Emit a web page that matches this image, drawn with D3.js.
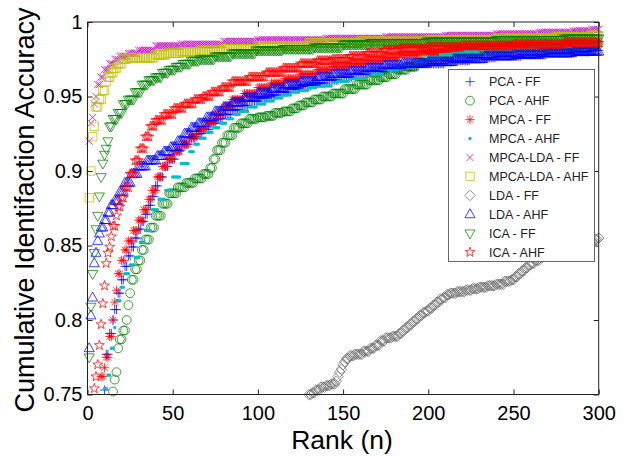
<!DOCTYPE html>
<html>
<head>
<meta charset="utf-8">
<title>Cumulative identification accuracy</title>
<style>
  body { margin: 0; background: #fff; }
  text { font-family: "Liberation Sans", Arial, Helvetica, sans-serif; }
</style>
</head>
<body>
<script src="https://cdn.jsdelivr.net/npm/d3@7/dist/d3.min.js"></script>
<script>

var width  = 628;
var height = 458;

// [rank, accuracy] pairs.
// A CMC curve is a step function: the accuracy holds until the next entry.
var pcaFF = [[10,0.753],[11,0.777],[13,0.791],[15,0.800],[16,0.807],[18,0.818],[20,0.827],[22,0.836],[24,0.843],
  [26,0.849],[28,0.855],[30,0.861],[32,0.866],[34,0.871],[36,0.877],[38,0.883],[40,0.890],[42,0.896],[45,0.903],
  [48,0.908],[52,0.914],[56,0.918],[60,0.922],[64,0.925],[68,0.928],[72,0.932],[76,0.935],[80,0.938],[85,0.941],
  [90,0.944],[95,0.947],[100,0.949],[106,0.951],[112,0.953],[118,0.955],[125,0.957],[132,0.959],[140,0.961],
  [148,0.963],[156,0.965],[165,0.967],[175,0.969],[185,0.970],[195,0.972],[210,0.974],[225,0.976],[240,0.977],
  [255,0.978],[270,0.979],[285,0.980],[295,0.981]];

var pcaAHF = [[15,0.752],[16,0.760],[17,0.765],[18,0.781],[19,0.787],[21,0.793],[23,0.800],[24,0.810],[25,0.818],
  [26,0.827],[28,0.834],[30,0.840],[32,0.847],[34,0.854],[37,0.862],[40,0.870],[44,0.878],[48,0.885],[53,0.889],
  [58,0.892],[63,0.895],[68,0.898],[72,0.902],[74,0.908],[76,0.914],[79,0.919],[82,0.924],[86,0.929],[90,0.932],
  [95,0.935],[100,0.936],[105,0.937],[110,0.939],[115,0.940],[120,0.942],[124,0.944],[128,0.946],[133,0.948],
  [138,0.950],[144,0.952],[151,0.955],[158,0.958],[165,0.961],[172,0.963],[177,0.965],[182,0.968],[188,0.970],
  [193,0.973],[198,0.976],[205,0.978],[215,0.980],[230,0.982],[250,0.983],[270,0.984],[290,0.985]];

var mpcaFF = [[8,0.762],[10,0.768],[11,0.775],[13,0.789],[15,0.800],[16,0.812],[17,0.820],[18,0.831],[20,0.840],
  [22,0.847],[24,0.853],[27,0.860],[30,0.867],[33,0.874],[36,0.881],[38,0.887],[41,0.896],[44,0.903],[47,0.908],
  [51,0.913],[55,0.918],[60,0.923],[65,0.928],[70,0.933],[75,0.938],[80,0.943],[85,0.948],[92,0.952],[100,0.956],
  [108,0.959],[116,0.962],[125,0.965],[135,0.968],[144,0.970],[154,0.972],[164,0.974],[174,0.976],[183,0.978],
  [195,0.980],[210,0.982],[230,0.984],[255,0.985],[280,0.986],[295,0.987]];

var mpcaAHF = [[10,0.754],[12,0.763],[14,0.781],[16,0.795],[17,0.813],[20,0.822],[22,0.831],[25,0.837],[28,0.842],
  [31,0.852],[34,0.860],[38,0.874],[42,0.881],[46,0.887],[50,0.896],[55,0.905],[60,0.913],[63,0.918],[66,0.922],
  [70,0.926],[74,0.929],[78,0.932],[82,0.935],[86,0.938],[90,0.940],[95,0.943],[100,0.945],[105,0.947],[110,0.949],
  [115,0.951],[120,0.953],[125,0.954],[130,0.956],[135,0.957],[144,0.960],[154,0.962],[164,0.965],[174,0.968],
  [183,0.970],[192,0.973],[200,0.976],[207,0.978],[215,0.980],[230,0.982],[260,0.983],[285,0.984]];

var mpcaldaFF = [[1,0.920],[2,0.932],[3,0.936],[4,0.945],[5,0.950],[6,0.958],[8,0.963],[10,0.968],[13,0.972],
  [16,0.975],[19,0.977],[24,0.979],[30,0.981],[40,0.984],[55,0.985],[80,0.987],[100,0.988],[140,0.989],
  [175,0.990],[210,0.991],[240,0.992],[265,0.993],[285,0.994],[296,0.995]];

var mpcaldaAHF = [[1,0.882],[2,0.900],[3,0.923],[4,0.930],[5,0.943],[7,0.948],[9,0.954],[11,0.960],[12,0.963],
  [14,0.966],[16,0.969],[18,0.972],[21,0.975],[24,0.976],[40,0.978],[47,0.979],[55,0.980],[66,0.981],[80,0.982],
  [100,0.984],[130,0.986],[160,0.987],[200,0.988],[240,0.989],[275,0.990],[295,0.991]];

var ldaFF = [[130,0.750],[132,0.751],[134,0.753],[137,0.755],[140,0.756],[143,0.757],[146,0.759],[147,0.762],
  [148,0.765],[149,0.767],[150,0.770],[151,0.772],[152,0.774],[154,0.776],[157,0.777],[162,0.779],[166,0.781],
  [169,0.783],[172,0.786],[175,0.788],[179,0.789],[183,0.791],[185,0.793],[187,0.795],[189,0.797],[191,0.799],
  [193,0.801],[195,0.803],[197,0.805],[199,0.806],[201,0.808],[203,0.810],[205,0.812],[207,0.814],[209,0.815],
  [211,0.817],[213,0.818],[217,0.819],[222,0.820],[226,0.821],[230,0.822],[235,0.823],[240,0.824],[245,0.826],
  [249,0.827],[251,0.829],[253,0.831],[255,0.833],[257,0.835],[259,0.837],[261,0.838],[263,0.840],[266,0.842],
  [268,0.844],[270,0.845],[274,0.847],[279,0.849],[284,0.850],[289,0.851],[294,0.853],[298,0.854],[300,0.855]];

var ldaAHF = [[1,0.781],[2,0.803],[3,0.815],[4,0.838],[5,0.845],[6,0.853],[7,0.858],[8,0.862],[10,0.867],
  [12,0.872],[14,0.877],[16,0.880],[19,0.886],[22,0.892],[26,0.898],[30,0.903],[35,0.907],[41,0.910],[45,0.913],
  [49,0.916],[53,0.920],[57,0.925],[61,0.929],[65,0.932],[70,0.936],[75,0.940],[80,0.943],[85,0.946],[92,0.949],
  [100,0.952],[108,0.955],[116,0.958],[125,0.960],[135,0.963],[144,0.965],[154,0.967],[164,0.969],[174,0.971],
  [185,0.972],[200,0.973],[215,0.975],[233,0.977],[250,0.978],[266,0.979],[285,0.980]];

var icaFF = [[1,0.775],[2,0.809],[3,0.831],[4,0.845],[5,0.861],[6,0.870],[7,0.883],[8,0.896],[9,0.905],
  [10,0.911],[11,0.915],[12,0.920],[13,0.930],[15,0.935],[18,0.939],[21,0.945],[24,0.948],[28,0.953],[32,0.958],
  [36,0.961],[40,0.963],[44,0.966],[48,0.968],[52,0.970],[56,0.972],[61,0.974],[66,0.975],[75,0.977],[85,0.979],
  [99,0.981],[115,0.982],[133,0.983],[150,0.985],[166,0.986],[199,0.987],[240,0.988],[280,0.989]];

var icaAHF = [[4,0.754],[5,0.762],[6,0.770],[7,0.783],[8,0.797],[9,0.811],[10,0.823],[11,0.838],[12,0.845],
  [13,0.849],[14,0.856],[15,0.863],[17,0.870],[18,0.876],[20,0.882],[22,0.889],[25,0.898],[28,0.907],[31,0.915],
  [34,0.923],[37,0.930],[40,0.934],[45,0.938],[51,0.942],[57,0.945],[63,0.948],[68,0.950],[73,0.953],[79,0.956],
  [85,0.960],[95,0.963],[105,0.966],[115,0.969],[125,0.972],[135,0.974],[144,0.975],[154,0.977],[164,0.979],
  [174,0.981],[183,0.982],[200,0.983],[220,0.984],[250,0.985],[280,0.986]];

var seriesNames = ["PCA - FF", "PCA - AHF", "MPCA - FF", "MPCA - AHF", "MPCA-LDA - FF",
                   "MPCA-LDA - AHF", "LDA - FF", "LDA - AHF", "ICA - FF", "ICA - AHF"];
var seriesData  = [pcaFF, pcaAHF, mpcaFF, mpcaAHF, mpcaldaFF, mpcaldaAHF, ldaFF, ldaAHF, icaFF, icaAHF];

var maxRank     = 300;
var xTicks      = [0, 50, 100, 150, 200, 250, 300];
var yTicks      = [0.75, 0.8, 0.85, 0.9, 0.95, 1];
var yTickLabels = ["0.75", "0.8", "0.85", "0.9", "0.95", "1"];

// style of each series, same order as seriesNames
var markers = ["plus", "circle", "asterisk", "dot", "cross", "square", "diamond", "triUp", "triDown", "pentagram"];
var colors  = ["#0000ff", "#008000", "#ff0000", "#00bfbf", "#bf00bf", "#bfbf00", "#666666", "#0000ff", "#008000", "#ff0000"];

// marker outlines centred on 0,0
function markerPath(type) {
  var r, s, p, i, a;
  switch (type) {
    case "plus":
      r = 4.6;
      return "M" + -r + ",0H" + r + "M0," + -r + "V" + r;
    case "circle":
      r = 4.4;
      return "M" + r + ",0A" + r + "," + r + " 0 1,1 " + -r + ",0A" + r + "," + r + " 0 1,1 " + r + ",0Z";
    case "asterisk":
      r = 4.6; s = r * 0.7;
      return "M" + -r + ",0H" + r + "M0," + -r + "V" + r +
             "M" + -s + "," + -s + "L" + s + "," + s + "M" + -s + "," + s + "L" + s + "," + -s;
    case "dot":
      r = 1.7;
      return "M" + r + ",0A" + r + "," + r + " 0 1,1 " + -r + ",0A" + r + "," + r + " 0 1,1 " + r + ",0Z";
    case "cross":
      s = 3.6;
      return "M" + -s + "," + -s + "L" + s + "," + s + "M" + -s + "," + s + "L" + s + "," + -s;
    case "square":
      r = 4.2;
      return "M" + -r + "," + -r + "H" + r + "V" + r + "H" + -r + "Z";
    case "diamond":
      r = 5.2;
      return "M0," + -r + "L" + r + ",0L0," + r + "L" + -r + ",0Z";
    case "triUp":
      r = 5.6;
      return "M0," + -r + "L" + r * 0.9 + "," + r * 0.6 + "L" + -r * 0.9 + "," + r * 0.6 + "Z";
    case "triDown":
      r = 5.6;
      return "M0," + r + "L" + r * 0.9 + "," + -r * 0.6 + "L" + -r * 0.9 + "," + -r * 0.6 + "Z";
    case "pentagram":
      r = 5.2; p = [];
      for (i = 0; i < 10; i++) {
        a = -Math.PI / 2 + i * Math.PI / 5;
        var rr = i % 2 ? r * 0.4 : r;
        p.push((rr * Math.cos(a)).toFixed(2) + "," + (rr * Math.sin(a)).toFixed(2));
      }
      return "M" + p.join("L") + "Z";
  }
}

// one point per rank, holding the last read value
function expand(breaks) {
  var pts = [], k = 0;
  for (var r = breaks[0][0]; r <= maxRank; r++) {
    while (k + 1 < breaks.length && breaks[k + 1][0] <= r) k++;
    pts.push([r, breaks[k][1]]);
  }
  return pts;
}

var x = d3.scaleLinear().domain([0, 300]).range([87.5, 598.7]);
var y = d3.scaleLinear().domain([0.75, 1]).range([394.5, 22]);

var svg = d3.select("body")
            .append("svg")
            .attr("width", width)
            .attr("height", height)
            .style("display", "block");

svg.append("rect").attr("width", width).attr("height", height).attr("fill", "#fff");

// data
seriesData.forEach(function(breaks, i) {
  var pts = expand(breaks).filter(function(d) { return d[1] >= 0.75 && d[1] <= 1; });
  var dot = markers[i] === "dot";
  svg.append("g")
     .selectAll("path")
     .data(pts)
     .join("path")
     .attr("transform", function(d) { return "translate(" + x(d[0]) + "," + y(d[1]) + ")"; })
     .attr("d", markerPath(markers[i]))
     .attr("fill", dot ? colors[i] : "none")
     .attr("stroke", dot ? "none" : colors[i])
     .attr("stroke-width", 0.75);
});

// axes, ticks pointing inwards on all four sides
var tickCol = "#222";
var gx = svg.append("g").attr("transform", "translate(0," + y(0.75) + ")")
  .call(d3.axisBottom(x).tickValues(xTicks).tickSizeInner(-5).tickSizeOuter(0).tickPadding(11).tickFormat(d3.format("d")));
var gxt = svg.append("g").attr("transform", "translate(0," + y(1) + ")")
  .call(d3.axisTop(x).tickValues(xTicks).tickSizeInner(-5).tickSizeOuter(0).tickFormat(""));
var gy = svg.append("g").attr("transform", "translate(" + x(0) + ",0)")
  .call(d3.axisLeft(y).tickValues(yTicks).tickSizeInner(-5).tickSizeOuter(0).tickPadding(5)
          .tickFormat(function(d, i) { return yTickLabels[i]; }));
var gyr = svg.append("g").attr("transform", "translate(" + x(300) + ",0)")
  .call(d3.axisRight(y).tickValues(yTicks).tickSizeInner(-5).tickSizeOuter(0).tickFormat(""));

[gx, gxt, gy, gyr].forEach(function(g) {
  g.select(".domain").remove();
  g.selectAll("line").attr("stroke", tickCol);
  g.selectAll("text").attr("fill", "#000").style("font-size", "20px")
   .style("font-family", "'Liberation Sans', Arial, sans-serif");
});

svg.append("rect")
   .attr("x", x(0)).attr("y", y(1))
   .attr("width", x(300) - x(0)).attr("height", y(0.75) - y(1))
   .attr("fill", "none").attr("stroke", tickCol).attr("stroke-width", 1);

// axis titles
svg.append("text")
   .attr("x", 342).attr("y", 449)
   .attr("text-anchor", "middle")
   .style("font-size", "26.5px")
   .text("Rank (n)");

svg.append("text")
   .attr("transform", "translate(34,210) rotate(-90)")
   .attr("text-anchor", "middle")
   .style("font-size", "27px")
   .text("Cumulative Identifaction Accuracy");

// legend
var legend = svg.append("g");
legend.append("rect")
      .attr("x", 448.5).attr("y", 69.5).attr("width", 146).attr("height", 192)
      .attr("fill", "#fff").attr("stroke", "#666").attr("stroke-width", 1);

var item = legend.selectAll("g.item")
  .data(seriesNames)
  .join("g")
  .attr("class", "item")
  .attr("transform", function(d, i) { return "translate(470," + (81.7 + i * 18.95) + ")"; });

item.append("path")
    .attr("d", function(d, i) { return markerPath(markers[i]); })
    .attr("fill", function(d, i) { return markers[i] === "dot" ? colors[i] : "none"; })
    .attr("stroke", function(d, i) { return markers[i] === "dot" ? "none" : colors[i]; })
    .attr("stroke-width", 0.75);

item.append("text")
    .attr("x", 19)
    .attr("dy", "0.36em")
    .style("font-size", "12.5px")
    .attr("fill", "#222")
    .text(function(d) { return d; });

</script>
</body>
</html>
